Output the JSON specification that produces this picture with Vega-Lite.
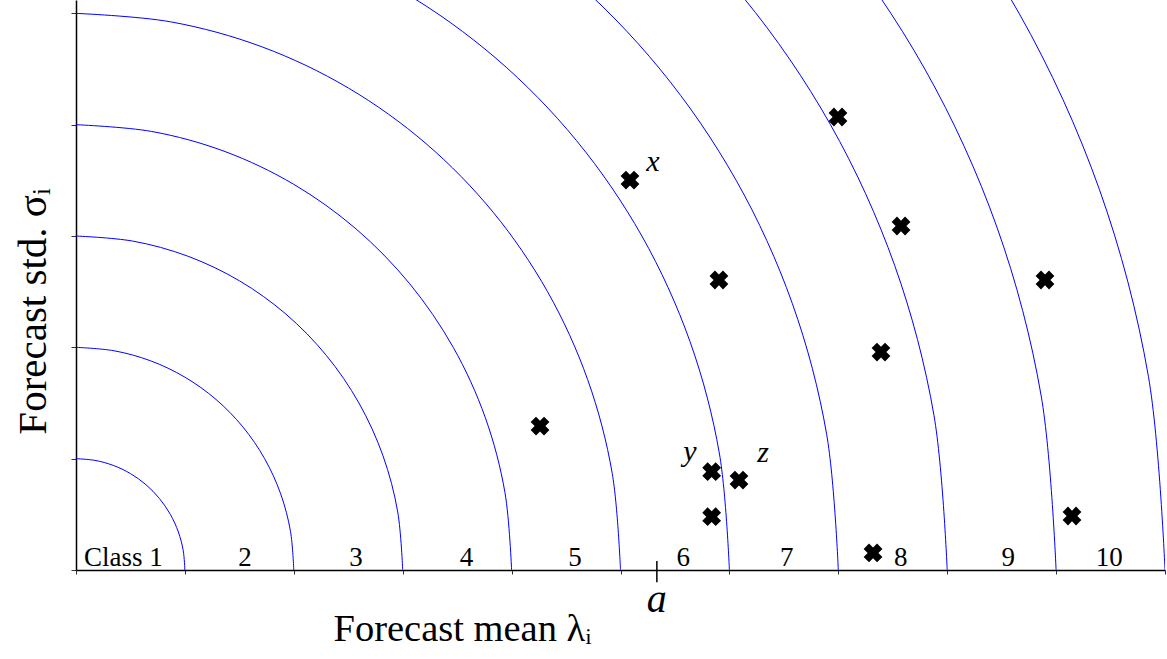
{
  "$schema": "https://vega.github.io/schema/vega-lite/v6.json",
  "autosize": "none",
  "width": 1089,
  "height": 570,
  "padding": {"left": 76, "top": 0, "right": 2, "bottom": 89},
  "background": "white",
  "config": {
    "view": {"stroke": null},
    "font": "Liberation Serif"
  },
  "encoding": {
    "x": {"type": "quantitative", "scale": {"domain": [0, 10], "nice": false, "zero": false}},
    "y": {"type": "quantitative", "scale": {"domain": [0, 5.12], "nice": false, "zero": false}}
  },
  "layer": [
    {
      "data": {"values": [
        {"k":1,"deg":0,"x":1,"y":0},{"k":1,"deg":10,"x":0.9848,"y":0.1736},{"k":1,"deg":20,"x":0.9397,"y":0.342},{"k":1,"deg":30,"x":0.866,"y":0.5},{"k":1,"deg":40,"x":0.766,"y":0.6428},{"k":1,"deg":50,"x":0.6428,"y":0.766},{"k":1,"deg":60,"x":0.5,"y":0.866},{"k":1,"deg":70,"x":0.342,"y":0.9397},{"k":1,"deg":80,"x":0.1736,"y":0.9848},{"k":1,"deg":90,"x":0,"y":1},
        {"k":2,"deg":0,"x":2,"y":0},{"k":2,"deg":10,"x":1.9696,"y":0.3473},{"k":2,"deg":20,"x":1.8794,"y":0.684},{"k":2,"deg":30,"x":1.7321,"y":1},{"k":2,"deg":40,"x":1.5321,"y":1.2856},{"k":2,"deg":50,"x":1.2856,"y":1.5321},{"k":2,"deg":60,"x":1,"y":1.7321},{"k":2,"deg":70,"x":0.684,"y":1.8794},{"k":2,"deg":80,"x":0.3473,"y":1.9696},{"k":2,"deg":90,"x":0,"y":2},
        {"k":3,"deg":0,"x":3,"y":0},{"k":3,"deg":10,"x":2.9544,"y":0.5209},{"k":3,"deg":20,"x":2.8191,"y":1.0261},{"k":3,"deg":30,"x":2.5981,"y":1.5},{"k":3,"deg":40,"x":2.2981,"y":1.9284},{"k":3,"deg":50,"x":1.9284,"y":2.2981},{"k":3,"deg":60,"x":1.5,"y":2.5981},{"k":3,"deg":70,"x":1.0261,"y":2.8191},{"k":3,"deg":80,"x":0.5209,"y":2.9544},{"k":3,"deg":90,"x":0,"y":3},
        {"k":4,"deg":0,"x":4,"y":0},{"k":4,"deg":10,"x":3.9392,"y":0.6946},{"k":4,"deg":20,"x":3.7588,"y":1.3681},{"k":4,"deg":30,"x":3.4641,"y":2},{"k":4,"deg":40,"x":3.0642,"y":2.5712},{"k":4,"deg":50,"x":2.5712,"y":3.0642},{"k":4,"deg":60,"x":2,"y":3.4641},{"k":4,"deg":70,"x":1.3681,"y":3.7588},{"k":4,"deg":80,"x":0.6946,"y":3.9392},{"k":4,"deg":90,"x":0,"y":4},
        {"k":5,"deg":0,"x":5,"y":0},{"k":5,"deg":10,"x":4.924,"y":0.8682},{"k":5,"deg":20,"x":4.6985,"y":1.7101},{"k":5,"deg":30,"x":4.3301,"y":2.5},{"k":5,"deg":40,"x":3.8302,"y":3.214},{"k":5,"deg":50,"x":3.214,"y":3.8302},{"k":5,"deg":60,"x":2.5,"y":4.3301},{"k":5,"deg":70,"x":1.7101,"y":4.6985},{"k":5,"deg":80,"x":0.8682,"y":4.924},{"k":5,"deg":90,"x":0,"y":5},
        {"k":6,"deg":0,"x":6,"y":0},{"k":6,"deg":10,"x":5.9089,"y":1.0419},{"k":6,"deg":20,"x":5.6382,"y":2.0521},{"k":6,"deg":30,"x":5.1962,"y":3},{"k":6,"deg":40,"x":4.5963,"y":3.8567},{"k":6,"deg":50,"x":3.8567,"y":4.5963},{"k":6,"deg":60,"x":3,"y":5.1962},{"k":6,"deg":70,"x":2.0521,"y":5.6382},
        {"k":7,"deg":0,"x":7,"y":0},{"k":7,"deg":10,"x":6.8937,"y":1.2155},{"k":7,"deg":20,"x":6.5778,"y":2.3941},{"k":7,"deg":30,"x":6.0622,"y":3.5},{"k":7,"deg":40,"x":5.3623,"y":4.4995},{"k":7,"deg":50,"x":4.4995,"y":5.3623},{"k":7,"deg":60,"x":3.5,"y":6.0622},
        {"k":8,"deg":0,"x":8,"y":0},{"k":8,"deg":10,"x":7.8785,"y":1.3892},{"k":8,"deg":20,"x":7.5175,"y":2.7362},{"k":8,"deg":30,"x":6.9282,"y":4},{"k":8,"deg":40,"x":6.1283,"y":5.1423},{"k":8,"deg":50,"x":5.1423,"y":6.1283},
        {"k":9,"deg":0,"x":9,"y":0},{"k":9,"deg":10,"x":8.8633,"y":1.5628},{"k":9,"deg":20,"x":8.4572,"y":3.0782},{"k":9,"deg":30,"x":7.7942,"y":4.5},{"k":9,"deg":40,"x":6.8944,"y":5.7851},{"k":9,"deg":50,"x":5.7851,"y":6.8944},
        {"k":10,"deg":0,"x":10,"y":0},{"k":10,"deg":10,"x":9.8481,"y":1.7365},{"k":10,"deg":20,"x":9.3969,"y":3.4202},{"k":10,"deg":30,"x":8.6603,"y":5},{"k":10,"deg":40,"x":7.6604,"y":6.4279},{"k":10,"deg":50,"x":6.4279,"y":7.6604}
      ]},
      "mark": {"type": "line", "clip": true, "interpolate": "catmull-rom", "color": "#0000ff", "strokeWidth": 1},
      "encoding": {
        "x": {"field": "x", "type": "quantitative",
          "axis": {"values": [0,1,2,3,4,5,6,7,8,9,10], "labels": false, "grid": false, "tickSize": 4, "tickColor": "#333333", "domainColor": "#000000", "domainWidth": 1.5,
            "title": "Forecast mean λᵢ", "titleFont": "Liberation Serif", "titleFontSize": 38.5, "titleFontWeight": "normal", "titleColor": "#000000", "titleX": 386, "titleY": 70, "titleBaseline": "alphabetic", "titleAlign": "center"}},
        "y": {"field": "y", "type": "quantitative",
          "axis": {"values": [0,1,2,3,4,5], "labels": false, "grid": false, "tickSize": 5, "tickColor": "#333333", "domainColor": "#000000", "domainWidth": 1.5,
            "title": "Forecast std. σᵢ", "titleFont": "Liberation Serif", "titleFontSize": 41, "titleFontWeight": "normal", "titleColor": "#000000", "titleAngle": -90, "titleX": -31, "titleY": 311, "titleBaseline": "alphabetic", "titleAlign": "center"}},
        "detail": {"field": "k", "type": "nominal"},
        "order": {"field": "deg", "type": "quantitative"}
      }
    },
    {
      "data": {"values": [
        {"mx":5.087,"sd":3.503},{"mx":6.997,"sd":4.069},{"mx":7.576,"sd":3.09},{"mx":5.904,"sd":2.605},{"mx":8.898,"sd":2.605},{"mx":7.392,"sd":1.958},{"mx":4.261,"sd":1.293},{"mx":5.837,"sd":0.883},{"mx":6.088,"sd":0.808},{"mx":5.837,"sd":0.479},{"mx":7.319,"sd":0.153},{"mx":9.146,"sd":0.485}
      ]},
      "mark": {"type": "point", "shape": "cross", "angle": 45, "filled": true, "color": "#000000", "opacity": 1, "size": 360},
      "encoding": {
        "x": {"field": "mx", "type": "quantitative"},
        "y": {"field": "sd", "type": "quantitative"}
      }
    },
    {
      "data": {"values": [
        {"name":"x","mx":5.298,"sd":3.665},{"name":"y","mx":5.638,"sd":1.06},{"name":"z","mx":6.309,"sd":1.051}
      ]},
      "mark": {"type": "text", "font": "Liberation Serif", "fontStyle": "italic", "fontSize": 30, "color": "#000000", "align": "center", "baseline": "middle"},
      "encoding": {
        "x": {"field": "mx", "type": "quantitative"},
        "y": {"field": "sd", "type": "quantitative"},
        "text": {"field": "name"}
      }
    },
    {
      "data": {"values": [
        {"label":"Class 1","cx":0.436},{"label":"2","cx":1.552},{"label":"3","cx":2.571},{"label":"4","cx":3.587},{"label":"5","cx":4.582},{"label":"6","cx":5.577},{"label":"7","cx":6.526},{"label":"8","cx":7.573},{"label":"9","cx":8.561},{"label":"10","cx":9.489}
      ]},
      "mark": {"type": "text", "font": "Liberation Serif", "fontSize": 27, "color": "#000000", "align": "center", "baseline": "alphabetic"},
      "encoding": {
        "x": {"field": "cx", "type": "quantitative"},
        "y": {"datum": 0.036},
        "text": {"field": "label"}
      }
    },
    {
      "data": {"values": [{"name":"a","pos":5.334}]},
      "mark": {"type": "rule", "color": "#000000", "strokeWidth": 1.5},
      "encoding": {
        "x": {"field": "pos", "type": "quantitative"},
        "y": {"datum": -0.11},
        "y2": {"datum": 0.08}
      }
    },
    {
      "data": {"values": [{"name":"a","pos":5.334}]},
      "mark": {"type": "text", "font": "Liberation Serif", "fontStyle": "italic", "fontSize": 40, "color": "#000000", "align": "center", "baseline": "alphabetic"},
      "encoding": {
        "x": {"field": "pos", "type": "quantitative"},
        "y": {"datum": -0.377},
        "text": {"field": "name"}
      }
    }
  ]
}
